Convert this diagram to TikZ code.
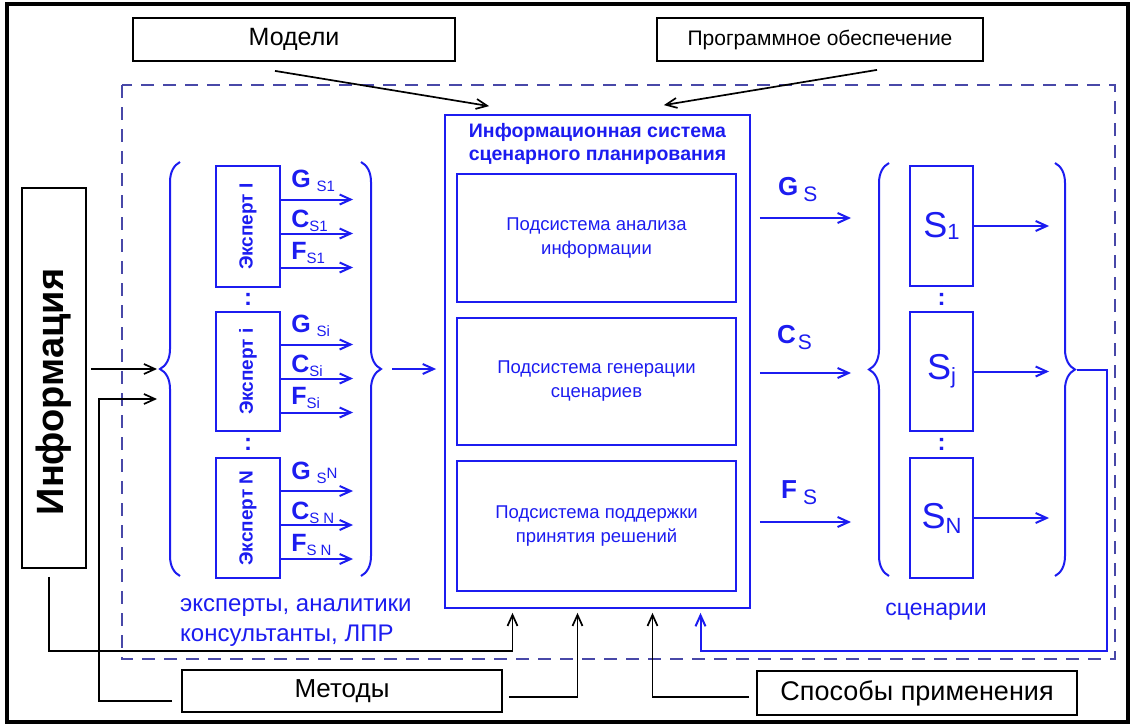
\documentclass[tikz,border=0pt]{standalone}
\usepackage{fontspec}
\setmainfont{Liberation Sans}
\usepackage{tikz}
\usetikzlibrary{arrows.meta, positioning, calc, decorations.pathreplacing}
\definecolor{isblue}{RGB}{28,28,240}
\definecolor{framenavy}{RGB}{72,72,168}
\newcommand{\fsz}[2]{\fontsize{#1pt}{#2pt}\selectfont}
\newcommand{\flowsub}[1]{\raisebox{-4pt}{\mdseries\fsz{15}{15}#1}}
\tikzset{
   blkbox/.style={draw=black, line width=1.8pt, minimum height=43pt, inner sep=0pt},
   isbox/.style={draw=isblue, line width=1.8pt, minimum width=305pt, minimum height=493pt, inner sep=0pt},
   subbox/.style={draw=isblue, line width=1.6pt, minimum width=279pt, minimum height=128pt, inner sep=0pt, align=center, text=isblue, font=\fsz{18.5}{24}},
   expbox/.style={draw=isblue, line width=2.1pt, minimum width=64pt, minimum height=120pt, inner sep=0pt},
   scenbox/.style={draw=isblue, line width=2.1pt, minimum width=63pt, minimum height=120pt, inner sep=0pt, text=isblue, font=\fsz{36}{36}},
   exptxt/.style={rotate=90, text=isblue, inner sep=0pt, font=\bfseries\fsz{19}{19}},
   flowlbl/.style={anchor=base west, inner sep=0pt, text=isblue, font=\bfseries\fsz{25}{25}},
   bluetxt/.style={text=isblue, inner sep=0pt},
   dotsnode/.style={text=isblue, inner sep=0pt, font=\bfseries\fsz{24}{24}},
   mybrace/.style={draw=isblue, line width=2pt, decorate, decoration={brace, amplitude=20pt}}
}

\begin{document}
\begin{tikzpicture}[x=1pt, y=-1pt, >={Straight Barb[length=11pt,width=10pt]}]
   \tikzstyle{kline} = [draw=black, ->, line width=1.7pt]
   \tikzstyle{bline} = [draw=isblue, ->, line width=2pt]
   \useasboundingbox (0,0) rectangle (1132,726);
   \draw[line width=3.5pt] (7,4) rectangle (1128,722);
   % dashed frame of the system
   \draw[framenavy, line width=2.2pt, dash pattern=on 13pt off 9pt] (122,85) rectangle (1115,659);

   % outer boxes
   \node[blkbox, minimum width=322pt, font=\fsz{25}{25}] (models) at (294,39.5) {Модели};
   \node[blkbox, minimum width=326pt, font=\fsz{21}{21}] (soft) at (820,39.5) {Программное обеспечение};
   \node[blkbox, minimum width=320pt, minimum height=42pt, font=\fsz{26}{26}] (methods) at (342,691) {Методы};
   \node[blkbox, minimum width=320pt, minimum height=44pt, font=\fsz{27}{27}] (usage) at (917,693) {Способы применения};
   \node[blkbox, minimum width=64pt, minimum height=380pt] (info) at (54,378) {};
   \node[rotate=90, inner sep=0pt, font=\bfseries\fsz{38}{38}] (infotxt) at ($(info)+(0,14)$) {Информация};

   % information system
   \node[isbox] (is) at (597.5,361.5) {};
   \node[bluetxt, anchor=base, font=\bfseries\fsz{19.5}{19.5}] (istitle1) at (597.5,137) {Информационная система};
   \node[bluetxt, anchor=base, font=\bfseries\fsz{19.5}{19.5}] (istitle2) at (597.5,160) {сценарного планирования};
   \node[subbox] (sub1) at (596.5,238) {Подсистема анализа\\информации};
   \node[subbox, minimum height=127pt] (sub2) at (596.5,381.5) {Подсистема генерации\\сценариев};
   \node[subbox, minimum height=130pt] (sub3) at (596.5,526) {Подсистема поддержки\\принятия решений};

   % experts
   \node[expbox, minimum height=121pt] (e1) at (248,226.5) {};
   \node[expbox, minimum height=119pt] (ei) at (248,371.5) {};
   \node[expbox] (eN) at (248,518) {};
   \node[exptxt] (e1txt) at (e1) {Эксперт I};
   \node[exptxt] (eitxt) at (ei) {Эксперт i};
   \node[exptxt] (eNtxt) at (eN) {Эксперт N};
   \node[dotsnode] (edots1) at ($(e1.south)!0.5!(ei.north)$) {:};
   \node[dotsnode] (edots2) at ($(ei.south)!0.5!(eN.north)$) {:};
   \foreach \e in {e1,ei,eN}
      \foreach \dy in {-27,7,41}
         \path[bline] ($(\e.east)+(0,\dy)$) -- ($(\e.east)+(72,\dy)$);
   \node[flowlbl] (g1) at ($(e1.east)+(10,-39)$) {G\hspace{6pt}\flowsub{S1}};
   \node[flowlbl] (c1) at ($(e1.east)+(10,1)$) {C\flowsub{S1}};
   \node[flowlbl] (f1) at ($(e1.east)+(10,33)$) {F\flowsub{S1}};
   \node[flowlbl] (gi) at ($(ei.east)+(10,-39)$) {G\hspace{6pt}\flowsub{Si}};
   \node[flowlbl] (ci) at ($(ei.east)+(10,1)$) {C\flowsub{Si}};
   \node[flowlbl] (fi) at ($(ei.east)+(10,33)$) {F\flowsub{Si}};
   \node[flowlbl] (gN) at ($(eN.east)+(10,-39)$) {G\hspace{6pt}\flowsub{S}\raisebox{1pt}{\mdseries\fsz{15}{15}N}};
   \node[flowlbl] (cN) at ($(eN.east)+(10,1)$) {C\flowsub{S N}};
   \node[flowlbl] (fN) at ($(eN.east)+(10,33)$) {F\flowsub{S N}};
   \draw[mybrace] (180,576) -- (180,162);
   \draw[mybrace] (361,162) -- (361,576);
   \coordinate (lbr) at (157,369);
   \coordinate (rbr) at (383,369);
   \node[bluetxt, anchor=base west, font=\fsz{24}{24}] (expcap1) at (180,611) {эксперты, аналитики};
   \node[bluetxt, anchor=base west, font=\fsz{24}{24}] (expcap2) at (180,641) {консультанты, ЛПР};

   % scenarios
   \node[scenbox] (s1) at (941.5,226) {S\raisebox{-2pt}{\fsz{22}{22}1}};
   \node[scenbox, minimum height=119pt] (sj) at (941.5,371.5) {S\raisebox{-4pt}{\fsz{22}{22}j}};
   \node[scenbox] (sN) at (941.5,518) {S\raisebox{-5pt}{\fsz{22}{22}N}};
   \node[dotsnode] (sdots1) at ($(s1.south)!0.5!(sj.north)$) {:};
   \node[dotsnode] (sdots2) at ($(sj.south)!0.5!(sN.north)$) {:};
   \draw[mybrace] (889,576) -- (889,163);
   \draw[mybrace] (1055,163) -- (1055,576);
   \coordinate (lsb) at (867,370);
   \coordinate (rsb) at (1077,369.5);
   \foreach \s in {s1,sj,sN}
      \path[bline] (\s.east) -- ++(75,0);
   \node[bluetxt, font=\fsz{23}{23}] (scencap) at (936,612) {сценарии};
   \node[flowlbl, font=\bfseries\fsz{26}{26}] (gs) at (778,195) {G\hspace{5pt}\raisebox{-6pt}{\mdseries\fsz{21}{21}S}};
   \node[flowlbl, font=\bfseries\fsz{26}{26}] (cs) at (777,343) {C\hspace{2pt}\raisebox{-6pt}{\mdseries\fsz{21}{21}S}};
   \node[flowlbl, font=\bfseries\fsz{26}{26}] (fs) at (781,498) {F\hspace{6pt}\raisebox{-6pt}{\mdseries\fsz{21}{21}S}};

   % blue connectors
   \path[bline] ($(is.east |- sub1)+(9,-20)$) -- ($(lsb |- sub1)+(-16,-20)$);
   \path[bline] ($(is.east |- sub2)+(9,-8.5)$) -- ($(lsb |- sub2)+(-16,-8.5)$);
   \path[bline] ($(is.east |- sub3)+(9,-4)$) -- ($(lsb |- sub3)+(-16,-4)$);
   \path[bline] ($(rbr)+(9,0)$) -- ($(is.west |- rbr)+(-8,0)$);
   \path[bline] (rsb) -- ++(30,0) |- ($(is.south)+(103,42)$) -- ($(is.south)+(103,4)$);

   % black connectors
   \path[kline] ($(models.south)+(-19,9)$) -- ($(is.north west)+(45,-8)$);
   \path[kline] ($(soft.south)+(57,8)$) -- ($(is.north east)+(-87,-9)$);
   \path[kline] ($(info.east)+(4,-9)$) -- (lbr);
   \path[kline] ($(methods.west)+(-9,10)$) -| ($(lbr)+(-58,30)$) -- ($(lbr)+(0,30)$);
   \path[kline] ($(info.south)+(-5,8)$) |- ($(is.south)+(-85,42)$) -- ($(is.south)+(-85,4)$);
   \path[kline] ($(methods.east)+(6,6)$) -| ($(is.south)+(-20,4)$);
   \path[kline] ($(usage.west)+(-7,4)$) -| ($(is.south)+(55,4)$);
\end{tikzpicture}
\end{document}
